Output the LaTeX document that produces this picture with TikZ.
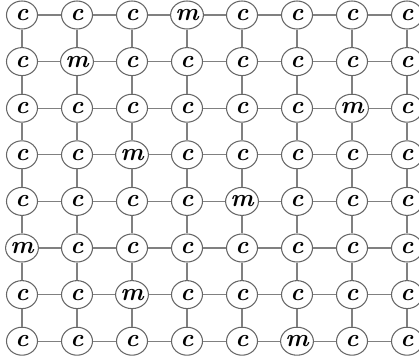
\documentclass[tikz,border=0pt]{standalone}
\usetikzlibrary{shapes.geometric}

\tikzset{
  cell/.style={ellipse, draw=gray!80!black, fill=white, line width=0.6pt,
    minimum width=0.62cm, minimum height=0.56cm, inner sep=0pt,
    font=\fontsize{14}{16}\selectfont\bfseries\itshape},
  link/.style={draw=gray, line width=0.6pt}
}

\begin{document}
\begin{tikzpicture}

\def\colW{1.1}
\def\rowH{0.932}
\def\firstX{0.44}
\def\firstY{-0.30}

\useasboundingbox (0,0) rectangle (8.38,-7.16);
\clip (0,0) rectangle (8.38,-7.16);

% cells, row by row
\foreach \row [count=\r] in {{c,c,c,m,c,c,c,c},{c,m,c,c,c,c,c,c},{c,c,c,c,c,c,m,c},{c,c,m,c,c,c,c,c},
                              {c,c,c,c,m,c,c,c},{m,c,c,c,c,c,c,c},{c,c,m,c,c,c,c,c},{c,c,c,c,c,m,c,c}} {
  \foreach \lbl [count=\k] in \row {
    \node[cell] (n-\r-\k) at ({\firstX+(\k-1)*\colW}, {\firstY-(\r-1)*\rowH}) {\lbl};
  }
}

% horizontal links
\foreach \r in {1,...,8} {
  \foreach \k [evaluate=\k as \kk using int(\k+1)] in {1,...,7} {
    \draw[link] (n-\r-\k) -- (n-\r-\kk);
  }
}

% vertical links
\foreach \r [evaluate=\r as \rr using int(\r+1)] in {1,...,7} {
  \foreach \k in {1,...,8} {
    \draw[link] (n-\r-\k) -- (n-\rr-\k);
  }
}

\end{tikzpicture}
\end{document}
